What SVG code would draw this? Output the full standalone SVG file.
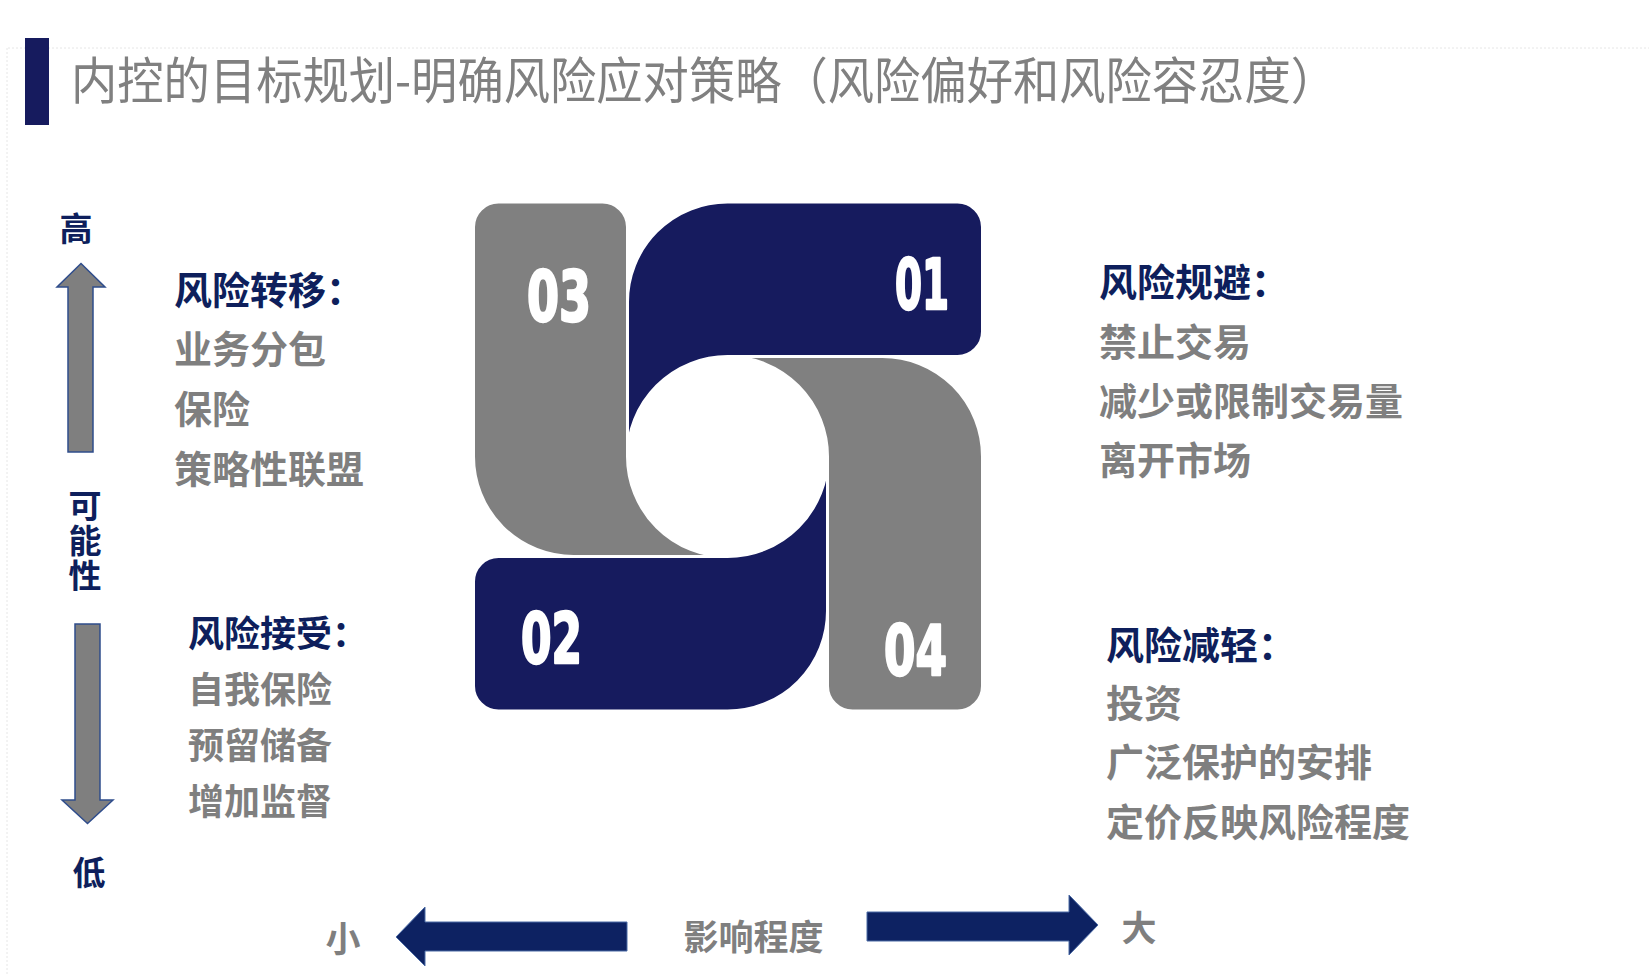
<svg xmlns="http://www.w3.org/2000/svg" width="1649" height="975" viewBox="0 0 1649 975">
<style>
.cjk{font-family:"Noto Sans CJK SC","Liberation Sans",sans-serif;dominant-baseline:central}
.hd{font-weight:700;fill:#0e1f5c;font-size:38px}
.it{font-weight:700;fill:#7f7f7f;font-size:38px}
.sm{font-size:36px}
.ax{font-weight:700;fill:#0e1f5c;font-size:33px;text-anchor:middle}
.vt{font-family:"Noto Sans CJK SC","Liberation Sans",sans-serif;font-weight:700;fill:#0e1f5c;font-size:33px;writing-mode:vertical-rl;letter-spacing:2px}
.gx{font-weight:700;fill:#7f7f7f;font-size:35px;text-anchor:middle}
.num{font-family:"Liberation Sans Narrow","DejaVu Sans Condensed","Liberation Sans",sans-serif;font-weight:700;font-size:70px;fill:#fff;stroke:#fff;stroke-width:2.5;stroke-linejoin:round}
.navy{fill:#161b5e;stroke:#fff;stroke-width:3}
.grey{fill:#808080;stroke:#fff;stroke-width:3}
.varrow{fill:#7f7f7f;stroke:#2f4d8c;stroke-width:1.5}
.harrow{fill:#0d2262;stroke:#4a6aa5;stroke-width:1}
</style>
<rect width="1649" height="975" fill="#fff"/>
<g id="frame" stroke="#e6e6e6" stroke-width="1" stroke-dasharray="2 2" fill="none">
<line x1="8" y1="48" x2="1649" y2="48"/>
<line x1="7" y1="48" x2="7" y2="975"/>
</g>
<g id="title">
<rect x="25" y="38" width="24" height="87" fill="#161b5e"/>
<text class="cjk" x="71" y="77" font-size="50" fill="#808080" textLength="1266" lengthAdjust="spacingAndGlyphs">内控的目标规划-明确风险应对策略（风险偏好和风险容忍度）</text>
</g>
<g id="swirl">
<g id="n01"><path class="navy" d="M 627.5 456.5 L 627.5 302 A 100 100 0 0 1 727.5 202 L 957.5 202 A 25 25 0 0 1 982.5 227 L 982.5 331.5 A 25 25 0 0 1 957.5 356.5 L 727.5 356.5 A 100 100 0 0 0 627.5 456.5 Z"/>
<text class="num" x="895" y="309" textLength="54" lengthAdjust="spacingAndGlyphs">01</text></g>
<g id="n04"><path class="grey" d="M 727.5 356.5 L 882.5 356.5 A 100 100 0 0 1 982.5 456.5 L 982.5 686 A 25 25 0 0 1 957.5 711 L 852.5 711 A 25 25 0 0 1 827.5 686 L 827.5 456.5 A 100 100 0 0 0 727.5 356.5 Z"/>
<text class="num" x="884" y="675" textLength="63" lengthAdjust="spacingAndGlyphs">04</text></g>
<g id="n02"><path class="navy" d="M 827.5 456.5 L 827.5 611 A 100 100 0 0 1 727.5 711 L 498.5 711 A 25 25 0 0 1 473.5 686 L 473.5 581.5 A 25 25 0 0 1 498.5 556.5 L 727.5 556.5 A 100 100 0 0 0 827.5 456.5 Z"/>
<text class="num" x="521" y="663" textLength="61" lengthAdjust="spacingAndGlyphs">02</text></g>
<g id="n03"><path class="grey" d="M 727.5 556.5 L 573.5 556.5 A 100 100 0 0 1 473.5 456.5 L 473.5 227 A 25 25 0 0 1 498.5 202 L 602.5 202 A 25 25 0 0 1 627.5 227 L 627.5 456.5 A 100 100 0 0 0 727.5 556.5 Z"/>
<text class="num" x="527" y="321" textLength="64" lengthAdjust="spacingAndGlyphs">03</text></g>
</g>
<g id="likelihood-axis">
<text class="cjk ax" x="76" y="227">高</text>
<path class="varrow" d="M 81 263.5 L 105 287 L 93 287 L 93 452 L 68 452 L 68 287 L 57 287 Z"/>
<text class="vt" x="85" y="488.5">可能性</text>
<path class="varrow" d="M 75 624 L 100 624 L 100 800 L 113 800 L 87.5 823.5 L 62 800 L 75 800 Z"/>
<text class="cjk ax" x="89" y="871">低</text>
</g>
<g id="transfer">
<text class="cjk hd" x="174" y="287">风险转移：</text>
<text class="cjk it" x="174" y="346">业务分包</text>
<text class="cjk it" x="174" y="406">保险</text>
<text class="cjk it" x="174" y="466">策略性联盟</text>
</g>
<g id="accept">
<text class="cjk hd sm" x="188" y="631">风险接受：</text>
<text class="cjk it sm" x="188" y="687">自我保险</text>
<text class="cjk it sm" x="188" y="743">预留储备</text>
<text class="cjk it sm" x="188" y="799">增加监督</text>
</g>
<g id="avoid">
<text class="cjk hd" x="1099" y="279">风险规避：</text>
<text class="cjk it" x="1099" y="339">禁止交易</text>
<text class="cjk it" x="1099" y="398">减少或限制交易量</text>
<text class="cjk it" x="1099" y="457">离开市场</text>
</g>
<g id="reduce">
<text class="cjk hd" x="1106" y="642">风险减轻：</text>
<text class="cjk it" x="1106" y="700">投资</text>
<text class="cjk it" x="1106" y="759">广泛保护的安排</text>
<text class="cjk it" x="1106" y="819">定价反映风险程度</text>
</g>
<g id="impact-axis">
<text class="cjk gx" x="343" y="936">小</text>
<path class="harrow" d="M 396 937 L 425 907 L 425 922 L 627 922 L 627 951 L 425 951 L 425 966 Z"/>
<text class="cjk gx" x="753.5" y="934" textLength="140" lengthAdjust="spacingAndGlyphs">影响程度</text>
<path class="harrow" d="M 867 912 L 1069 912 L 1069 895 L 1098 925 L 1069 955 L 1069 941 L 867 941 Z"/>
<text class="cjk gx" x="1139" y="925">大</text>
</g>
</svg>
